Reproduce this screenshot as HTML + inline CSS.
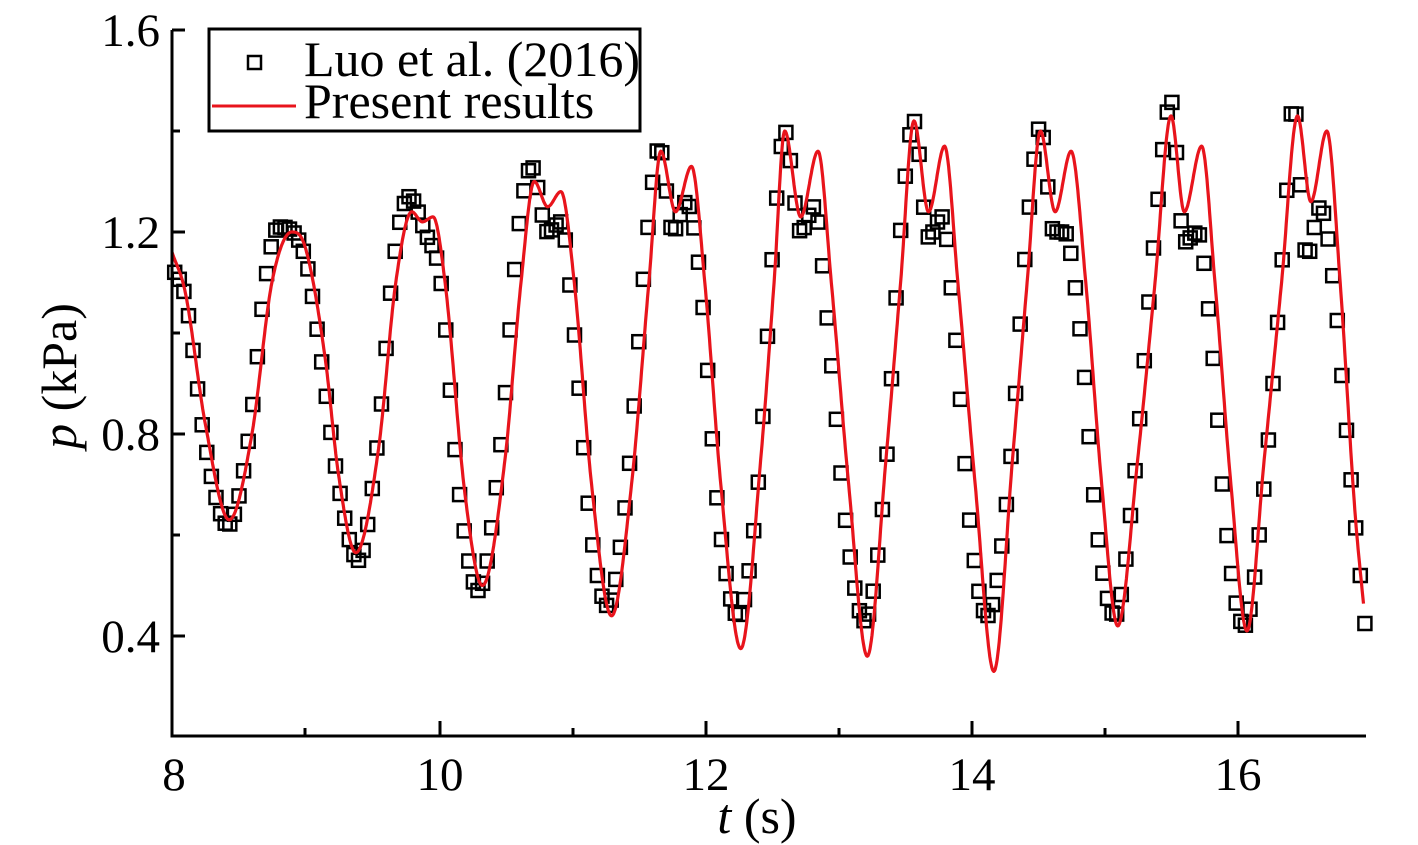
<!DOCTYPE html>
<html><head><meta charset="utf-8"><style>
html,body{margin:0;padding:0;background:#fff;}
svg{display:block;font-family:"Liberation Serif",serif;}
</style></head><body>
<svg id="s" width="1418" height="845" xmlns="http://www.w3.org/2000/svg">
<g id="marks"></g>
<path id="curve" fill="none" stroke="#e8141c" stroke-width="3.2" stroke-linejoin="round"/>
<g stroke="#000" stroke-width="3" fill="none">
<path d="M172,30 L172,736 L1366,736"/>
<path d="M172,30h13M172,232h13M172,434h13M172,636h13M172,131h8M172,333h8M172,535h8"/>
<path d="M440,736v-15M706,736v-15M972,736v-15M1238,736v-15M305,736v-8M573,736v-8M839,736v-8M1105,736v-8M172,736v-15"/>
</g>
<g font-size="47" text-anchor="end" fill="#000">
<text x="160" y="46">1.6</text><text x="160" y="248">1.2</text><text x="160" y="450">0.8</text><text x="160" y="652">0.4</text>
</g>
<g font-size="47" text-anchor="middle" fill="#000">
<text x="174" y="790">8</text><text x="440" y="790">10</text><text x="706" y="790">12</text><text x="972" y="790">14</text><text x="1238" y="790">16</text>
</g>
<g font-size="50" text-anchor="middle" fill="#000">
<text x="757" y="833"><tspan font-style="italic">t</tspan> (s)</text>
<text transform="translate(76,376) rotate(-90)"><tspan font-style="italic">p</tspan> (kPa)</text>
</g>
<rect x="209" y="29" width="431" height="102" fill="#fff" stroke="#000" stroke-width="3"/>
<rect x="248" y="56" width="13" height="13" fill="none" stroke="#000" stroke-width="2.5"/>
<line x1="212" y1="106" x2="296" y2="106" stroke="#e8141c" stroke-width="3"/>
<g font-size="50" fill="#000"><text x="304" y="76">Luo et al. (2016)</text><text x="304" y="118">Present results</text></g>
</svg>
<script>
function X(t){return 172+(t-8)*133.2;}
function Y(v){return 30+(1.6-v)*505;}
function mono(k){var n=k.length,d=[],m=[];for(var i=0;i<n-1;i++)d.push((k[i+1][1]-k[i][1])/(k[i+1][0]-k[i][0]));
m[0]=d[0];m[n-1]=d[n-2];for(i=1;i<n-1;i++){m[i]=(d[i-1]*d[i]<=0)?0:(d[i-1]+d[i])/2;}
for(i=0;i<n-1;i++){if(d[i]==0){m[i]=m[i+1]=0;continue;}var a=m[i]/d[i],b=m[i+1]/d[i],s=a*a+b*b;if(s>9){var tt=3/Math.sqrt(s);m[i]=tt*a*d[i];m[i+1]=tt*b*d[i];}}
return function(t){var j=0;while(j<n-2&&t>k[j+1][0])j++;var h=k[j+1][0]-k[j][0],u=(t-k[j][0])/h,u2=u*u,u3=u2*u;
return (2*u3-3*u2+1)*k[j][1]+(u3-2*u2+u)*h*m[j]+(-2*u3+3*u2)*k[j+1][1]+(u3-u2)*h*m[j+1];};}
var P=[[8.0,1.16],[8.1,1.08],[8.25,0.82],[8.43,0.63],[8.6,0.8],[8.75,1.1],[8.9,1.2],[9.0,1.17],[9.15,0.95],[9.25,0.72],[9.38,0.565],[9.55,0.77],[9.68,1.1],[9.8,1.24],[9.88,1.22],[9.96,1.23],[10.05,1.1],[10.2,0.68],[10.33,0.50],[10.5,0.75],[10.62,1.1],[10.72,1.30],[10.82,1.25],[10.92,1.28],[11.02,1.1],[11.15,0.7],[11.3,0.44],[11.45,0.7],[11.58,1.1],[11.67,1.36],[11.78,1.24],[11.9,1.33],[12.0,1.1],[12.12,0.7],[12.27,0.375],[12.42,0.75],[12.52,1.1],[12.6,1.40],[12.72,1.23],[12.85,1.36],[12.95,1.1],[13.08,0.7],[13.22,0.36],[13.36,0.75],[13.47,1.1],[13.57,1.42],[13.68,1.24],[13.8,1.37],[13.9,1.1],[14.03,0.7],[14.17,0.33],[14.31,0.75],[14.42,1.1],[14.52,1.40],[14.63,1.24],[14.75,1.36],[14.86,1.1],[14.98,0.7],[15.1,0.42],[15.25,0.75],[15.38,1.1],[15.5,1.43],[15.6,1.24],[15.73,1.37],[15.83,1.1],[15.95,0.7],[16.07,0.41],[16.2,0.75],[16.33,1.1],[16.45,1.43],[16.55,1.26],[16.67,1.40],[16.77,1.1],[16.88,0.65],[16.95,0.45]];
var L=[[8.0,1.13],[8.1,1.07],[8.25,0.78],[8.42,0.62],[8.58,0.8],[8.7,1.1],[8.8,1.21],[9.0,1.15],[9.12,0.95],[9.25,0.7],[9.4,0.55],[9.55,0.8],[9.67,1.15],[9.78,1.27],[9.9,1.2],[10.02,1.1],[10.15,0.7],[10.3,0.49],[10.47,0.78],[10.6,1.2],[10.7,1.33],[10.82,1.2],[10.92,1.22],[11.02,1.0],[11.15,0.6],[11.27,0.46],[11.42,0.7],[11.57,1.2],[11.66,1.37],[11.76,1.2],[11.86,1.26],[11.97,1.1],[12.1,0.65],[12.25,0.44],[12.4,0.7],[12.52,1.2],[12.6,1.40],[12.72,1.2],[12.82,1.25],[12.93,1.0],[13.07,0.6],[13.2,0.43],[13.35,0.7],[13.47,1.2],[13.57,1.42],[13.68,1.19],[13.78,1.23],[13.88,1.0],[14.0,0.6],[14.12,0.44],[14.28,0.7],[14.42,1.2],[14.52,1.41],[14.62,1.2],[14.7,1.2],[14.82,1.0],[14.95,0.6],[15.08,0.44],[15.22,0.7],[15.38,1.2],[15.5,1.46],[15.6,1.18],[15.7,1.2],[15.8,1.0],[15.92,0.6],[16.05,0.42],[16.2,0.7],[16.35,1.2],[16.42,1.46],[16.52,1.15],[16.62,1.25],[16.72,1.1],[16.82,0.8],[16.95,0.44]];
var fp=mono(P),fl=mono(L),d="";
for(var t=8;t<=16.95;t+=0.005){d+=(d?"L":"M")+X(t).toFixed(1)+","+Y(fp(t)).toFixed(1);}
document.getElementById("curve").setAttribute("d",d);
var g="";for(t=8.02;t<=16.96;t+=0.0345){var x=X(t),y=Y(fl(t));g+='<rect x="'+(x-6.5).toFixed(1)+'" y="'+(y-6.5).toFixed(1)+'" width="13" height="13" fill="none" stroke="#000" stroke-width="2.5"/>';}
document.getElementById("marks").innerHTML=g;
</script>
</body></html>
